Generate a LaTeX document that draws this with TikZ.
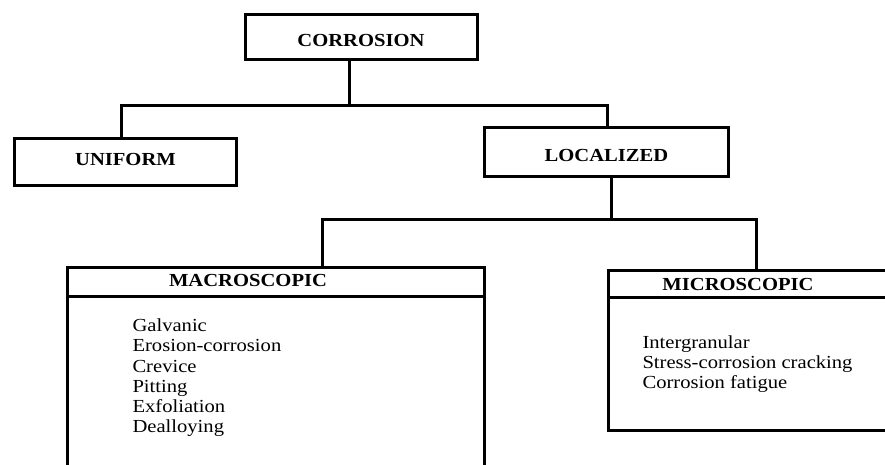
\documentclass[tikz,border=0pt]{standalone}
\usepackage{fontspec}
\setmainfont{Liberation Serif}[FakeStretch=1.12]

\begin{document}
\begin{tikzpicture}[x=1pt, y=-1pt, line width=3pt,
  catbox/.style = {draw, rectangle, inner sep=0pt,
    font=\fontsize{18.4}{20.4}\selectfont\bfseries},
  headtext/.style = {inner sep=0pt, anchor=base,
    font=\fontsize{18.4}{20.4}\selectfont\bfseries},
  itemtext/.style = {inner sep=0pt, anchor=base west,
    font=\fontsize{18.4}{20.4}\selectfont}]
  \useasboundingbox (0,0) rectangle (885,464);
  \clip (0,0) rectangle (885,464);

  \node[catbox, minimum width=232, minimum height=45,
    text height=19pt, text depth=0pt] (corrosion) at (361,36.5) {CORROSION};
  \node[catbox, minimum width=222, minimum height=47,
    text height=12.2pt, text depth=6pt] (uniform) at (125.5,162) {UNIFORM};
  \node[catbox, minimum width=244, minimum height=49,
    text height=18pt, text depth=0pt] (localized) at (606.5,152) {LOCALIZED};
  \node[catbox, minimum width=417, minimum height=260] (macro) at (276,397.5) {};
  \node[catbox, minimum width=292, minimum height=160] (micro) at (754.5,350.5) {};

  % header bars of the two lists
  \coordinate (macrobar) at (0,296.5);
  \coordinate (microbar) at (0,297.5);
  \draw (macro.west |- macrobar) -- (macro.east |- macrobar);
  \draw (micro.west |- microbar) -- (micro.east |- microbar);
  \node[headtext] (macrohead) at (248,286.3) {MACROSCOPIC};
  \node[headtext] (microhead) at (738,290) {MICROSCOPIC};

  \foreach \t [count=\i from 0] in {Galvanic, Erosion-corrosion, Crevice,
      Pitting, Exfoliation, Dealloying}
    \node[itemtext] (macro\i) at (131, 331.7+20.2*\i) {\t};
  \foreach \t [count=\i from 0] in {Intergranular, Stress-corrosion cracking,
      Corrosion fatigue}
    \node[itemtext] (micro\i) at (641, 348+20.4*\i) {\t};

  % connectors
  \coordinate (j0) at (349,105);
  \coordinate (j1) at (121,105);
  \coordinate (j2) at (607,105);
  \coordinate (k0) at (611,219);
  \coordinate (k1) at (322,219);
  \coordinate (k2) at (756,219);
  \draw (corrosion.south -| j0) -- (j0);
  \draw (uniform.north -| j1) |- (j2) -- (localized.north -| j2);
  \draw (localized.south -| k0) -- (k0);
  \draw (macro.north -| k1) |- (k2) -- (micro.north -| k2);
\end{tikzpicture}
\end{document}
